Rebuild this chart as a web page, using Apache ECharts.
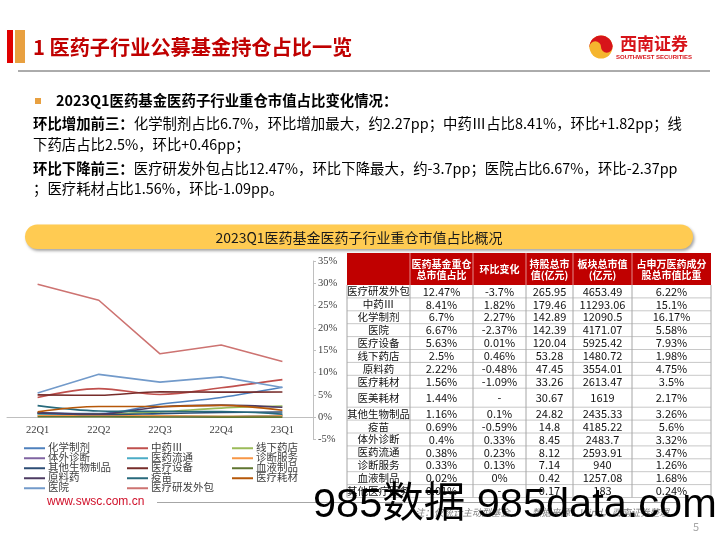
<!DOCTYPE html>
<html><head><meta charset="utf-8">
<script src="https://cdn.jsdelivr.net/npm/echarts@6/dist/echarts.min.js"></script>
<style>html,body{margin:0;padding:0;background:#fff}#c{width:720px;height:540px}</style>
</head><body><div id="c"></div>
<script>
// ---------- data ----------
const quarters = ['22Q1', '22Q2', '22Q3', '22Q4', '23Q1'];
const chemPrep   = [0.9, 0.8, 2.9, 4.43, 6.7];     // 化学制剂
const tcm        = [4.4, 6.4, 5.1, 6.59, 8.41];    // 中药Ⅲ
const pharmacy   = [0.6, 0.7, 1.2, 2.04, 2.5];     // 线下药店
const ivd        = [0.9, 0.4, 0.2, 0.07, 0.4];     // 体外诊断
const distrib    = [0.5, 0.4, 0.3, 0.15, 0.38];    // 医药流通
const diagSvc    = [0.3, 0.3, 0.3, 0.2, 0.33];     // 诊断服务
const otherBio   = [0.9, 0.6, 0.8, 1.06, 1.16];    // 其他生物制品
const equipment  = [5.0, 4.9, 5.7, 5.62, 5.63];    // 医疗设备
const blood      = [0.1, 0.1, 0.05, 0.02, 0.02];   // 血液制品
const api        = [1.0, 0.7, 2.3, 2.7, 2.22];     // 原料药
const vaccine    = [2.6, 1.4, 1.3, 1.28, 0.69];    // 疫苗
const consumable = [1.2, 2.4, 2.4, 2.65, 1.56];    // 医疗耗材
const hospital   = [5.4, 9.6, 7.85, 9.04, 6.67];   // 医院
const cro        = [29.8, 26.2, 14.2, 16.17, 12.47]; // 医疗研发外包

const seriesNames = ['化学制剂','中药Ⅲ','线下药店','体外诊断','医药流通','诊断服务','其他生物制品','医疗设备','血液制品','原料药','疫苗','医疗耗材','医院','医疗研发外包'];
const seriesValues = [chemPrep, tcm, pharmacy, ivd, distrib, diagSvc, otherBio, equipment, blood, api, vaccine, consumable, hospital, cro];

const tableHeaders = ['', '医药基金重仓\n总市值占比', '环比变化', '持股总市\n值(亿元)', '板块总市值\n(亿元)', '占申万医药成分\n股总市值比重'];
const tableRows   = ['医疗研发外包','中药Ⅲ','化学制剂','医院','医疗设备','线下药店','原料药','医疗耗材','医美耗材','其他生物制品','疫苗','体外诊断','医药流通','诊断服务','血液制品','其他医疗服务'];
const tableShare  = ['12.47%','8.41%','6.7%','6.67%','5.63%','2.5%','2.22%','1.56%','1.44%','1.16%','0.69%','0.4%','0.38%','0.33%','0.02%','0.01%'];
const tableChange = ['-3.7%','1.82%','2.27%','-2.37%','0.01%','0.46%','-0.48%','-1.09%','-','0.1%','-0.59%','0.33%','0.23%','0.13%','0%','-'];
const tableHold   = ['265.95','179.46','142.89','142.39','120.04','53.28','47.45','33.26','30.67','24.82','14.8','8.45','8.12','7.14','0.42','0.17'];
const tableCap    = ['4653.49','11293.06','12090.5','4171.07','5925.42','1480.72','3554.01','2613.47','1619','2435.33','4185.22','2483.7','2593.91','940','1257.08','183'];
const tableWeight = ['6.22%','15.1%','16.17%','5.58%','7.93%','1.98%','4.75%','3.5%','2.17%','3.26%','5.6%','3.32%','3.47%','1.26%','1.68%','0.24%'];

// ---------- styles / layout ----------
const F = '"Noto Sans CJK SC", "Noto Sans", sans-serif';
const SERIF = '"Liberation Serif", "Noto Sans CJK SC", serif';
const seriesColors = ['#4F81BD','#C0504D','#9BBB59','#8064A2','#4BACC6','#F79646','#2C4D75','#772C2A','#5F7530','#4D3B62','#276A7C','#B65708','#729ACA','#CD7371'];
const straightSeries = ['医院', '医疗研发外包'];

const chart = echarts.init(document.getElementById('c'));

const series = seriesNames.map((n, i) => ({
  name: n, type: 'line', data: seriesValues[i],
  symbol: 'none', showSymbol: false,
  smooth: straightSeries.includes(n) ? false : 0.35,
  lineStyle: { width: 1.6, color: seriesColors[i] },
  itemStyle: { color: seriesColors[i] },
  emphasis: { disabled: true }
}));

function legendCol(startIdx, left) {
  const d = [];
  for (let i = startIdx; i < seriesNames.length; i += 3) d.push(seriesNames[i]);
  return {
    data: d, orient: 'vertical', left: left, top: 443, padding: 0, itemGap: -0.5,
    icon: 'rect', itemWidth: 21, itemHeight: 2,
    textStyle: { fontSize: 10.5, color: '#404040', fontFamily: SERIF, lineHeight: 10, padding: [0,0,0,-2] }
  };
}

// ---------- graphic: page furniture + table ----------
const g = [];
g.push({ type: 'rect', shape: { x: 7, y: 30, width: 6, height: 33 }, style: { fill: '#E00000' } });
g.push({ type: 'rect', shape: { x: 15, y: 30, width: 10, height: 33 }, style: { fill: '#E8A040' } });
g.push({ type: 'text', style: { text: '1 医药子行业公募基金持仓占比一览', x: 33, y: 47, verticalAlign: 'middle', fill: '#C00000', fontSize: 20.2, fontWeight: 'bold', fontFamily: F } });
g.push({ type: 'line', shape: { x1: 18, y1: 71, x2: 710, y2: 71 }, style: { stroke: '#595959', lineWidth: 1 } });
// logo
g.push({ type: 'circle', shape: { cx: 601, cy: 47, r: 11.5 }, style: { fill: '#F5B52E' } });
g.push({ type: 'sector', shape: { cx: 601, cy: 47, r: 11.5, r0: 0, startAngle: Math.PI, endAngle: Math.PI * 2 }, style: { fill: '#D7141A' } });
g.push({ type: 'circle', shape: { cx: 606.75, cy: 47, r: 5.75 }, style: { fill: '#D7141A' } });
g.push({ type: 'circle', shape: { cx: 595.25, cy: 47, r: 5.75 }, style: { fill: '#F5B52E' } });
g.push({ type: 'text', style: { text: '西南证券', x: 654, y: 44, align: 'center', verticalAlign: 'middle', fill: '#D7141A', fontSize: 17, fontWeight: 'bold', fontFamily: F } });
g.push({ type: 'text', style: { text: 'SOUTHWEST SECURITIES', x: 654, y: 57.5, align: 'center', verticalAlign: 'middle', fill: '#D7141A', fontSize: 6, fontWeight: 'bold', fontFamily: '"Liberation Sans", sans-serif' } });
// bullet text
g.push({ type: 'rect', shape: { x: 35, y: 98, width: 6, height: 6 }, style: { fill: '#E8A040' } });
const BODY = 14.4;
const bodyRich = { b: { fontWeight: 'bold', fontSize: BODY, fontFamily: F, fill: '#000' } };
const bodyLines = [
  ['{b|2023Q1医药基金医药子行业重仓市值占比变化情况：}', 56, 101],
  ['{b|环比增加前三：}化学制剂占比6.7%，环比增加最大，约2.27pp；中药Ⅲ占比8.41%，环比+1.82pp；线', 33, 124],
  ['下药店占比2.5%，环比+0.46pp；', 33, 145],
  ['{b|环比下降前三：}医疗研发外包占比12.47%，环比下降最大，约-3.7pp；医院占比6.67%，环比-2.37pp', 33, 169],
  ['；医疗耗材占比1.56%，环比-1.09pp。', 33, 189]
];
bodyLines.forEach(([t, x, y]) => g.push({ type: 'text', style: { text: t, x: x, y: y, verticalAlign: 'middle', fill: '#000', fontSize: BODY, fontFamily: F, rich: bodyRich } }));
// banner
g.push({ type: 'rect', shape: { x: 25, y: 224.5, width: 668, height: 24.5, r: 12.25 }, style: { fill: '#FFCB52', shadowBlur: 3, shadowOffsetX: 1.5, shadowOffsetY: 2, shadowColor: 'rgba(0,0,0,0.35)' } });
g.push({ type: 'text', style: { text: '2023Q1医药基金医药子行业重仓市值占比概况', x: 359, y: 237.5, align: 'center', verticalAlign: 'middle', fill: '#1a1a1a', fontSize: 14, fontFamily: F } });

// table
const colX = [347, 410, 473, 526, 573, 632, 711];
const headTop = 253, headBottom = 285;
const rowHeights = tableRows.map((_, i) => i === 8 ? 19 : 12.9);
const tableCols = [tableRows, tableShare, tableChange, tableHold, tableCap, tableWeight];
g.push({ type: 'rect', shape: { x: colX[0], y: headTop, width: colX[6] - colX[0], height: headBottom - headTop }, style: { fill: '#C00000' } });
for (let i = 1; i < 6; i++) g.push({ type: 'line', shape: { x1: colX[i], y1: headTop, x2: colX[i], y2: headBottom }, style: { stroke: 'rgba(255,255,255,0.55)', lineWidth: 1 } });
tableHeaders.forEach((h, i) => {
  if (!h) return;
  g.push({ type: 'text', style: { text: h, x: (colX[i] + colX[i + 1]) / 2, y: (headTop + headBottom) / 2 + 0.5, align: 'center', verticalAlign: 'middle', fill: '#fff', fontSize: 10, fontWeight: 'bold', fontFamily: F, lineHeight: 11.5 } });
});
let yy = headBottom;
tableRows.forEach((_, r) => {
  const h = rowHeights[r], cy = yy + h / 2;
  tableCols.forEach((col, c) => {
    g.push({ type: 'text', style: { text: col[r], x: (colX[c] + colX[c + 1]) / 2, y: cy, align: 'center', verticalAlign: 'middle', fill: '#111', fontSize: c === 0 ? 10.5 : 11, fontFamily: F } });
  });
  yy += h;
  g.push({ type: 'line', shape: { x1: colX[0], y1: yy, x2: colX[6], y2: yy }, style: { stroke: '#C8C8C8', lineWidth: 1 } });
});
colX.forEach(x => g.push({ type: 'line', shape: { x1: x, y1: headBottom, x2: x, y2: yy }, style: { stroke: '#A6A6A6', lineWidth: 1 } }));

// footer
g.push({ type: 'text', style: { text: 'www.swsc.com.cn', x: 47, y: 502, verticalAlign: 'middle', fill: '#D0102A', fontSize: 12, fontFamily: '"Liberation Sans", sans-serif' } });
g.push({ type: 'line', shape: { x1: 157, y1: 502.5, x2: 676, y2: 502.5 }, style: { stroke: '#A6A6A6', lineWidth: 1 } });
g.push({ type: 'text', style: { text: '注：仅统计主动型基金', x: 415, y: 512, verticalAlign: 'middle', fill: '#7F7F7F', fontSize: 9.5, fontStyle: 'italic', fontFamily: F } });
g.push({ type: 'text', style: { text: '数据来源：Wind，西南证券整理', x: 532, y: 512, verticalAlign: 'middle', fill: '#7F7F7F', fontSize: 9.5, fontStyle: 'italic', fontFamily: F } });
g.push({ type: 'text', style: { text: '5', x: 693, y: 527, verticalAlign: 'middle', fill: '#A6A6A6', fontSize: 11, fontFamily: F } });
// watermark
g.push({ type: 'text', z: 100, style: { text: '985数据 985data.com', x: 313, y: 506, verticalAlign: 'middle', fill: '#000', fontSize: 41.5, fontFamily: '"Liberation Sans", "Noto Sans CJK SC", sans-serif' } });

const option = {
  animation: false,
  backgroundColor: '#fff',
  grid: { left: 7, right: 407, top: 261, bottom: 100.5, containLabel: false },
  xAxis: {
    type: 'category', data: quarters, boundaryGap: true,
    axisLine: { onZero: true, lineStyle: { color: '#BFBFBF', width: 1 } },
    axisTick: { show: false },
    axisLabel: { color: '#404040', fontSize: 10.5, fontFamily: SERIF, margin: -14 },
    splitLine: { show: false }
  },
  yAxis: {
    type: 'value', position: 'right', min: -5, max: 35, interval: 5,
    axisLine: { show: true, lineStyle: { color: '#BFBFBF', width: 1 } },
    axisTick: { show: true, length: 3, lineStyle: { color: '#BFBFBF' } },
    axisLabel: { color: '#404040', fontSize: 10.5, fontFamily: SERIF, margin: 5, formatter: '{value}%' },
    splitLine: { show: false }
  },
  legend: [legendCol(0, 24), legendCol(1, 127), legendCol(2, 232)],
  series: series,
  graphic: { elements: g }
};
chart.setOption(option);
</script>
</body></html>
